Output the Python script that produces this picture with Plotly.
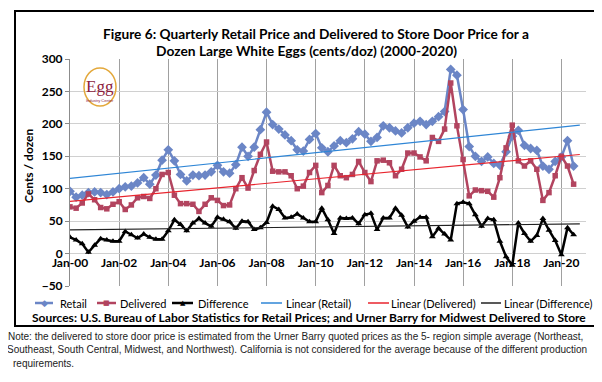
import numpy as np
import pandas as pd
import plotly.graph_objects as go

# ---------------- data (cents / dozen), quarterly 2000Q1 .. 2020Q3 ----------------
quarters = pd.date_range("2000-01-01", periods=83, freq="QS").strftime("%Y-%m-%d").tolist()

retail = [96, 87, 90, 94, 95, 94, 91, 95, 100, 103,
          104, 109, 117, 107, 121, 144, 160, 143, 122, 112,
          121, 120, 121, 126, 136, 126, 124, 137, 164, 150,
          164, 191, 218, 199, 192, 183, 174, 160, 158, 176,
          185, 163, 157, 166, 174, 171, 177, 188, 184, 173,
          179, 197, 194, 189, 186, 194, 201, 204, 199, 204,
          211, 219, 284, 275, 222, 165, 150, 142, 149, 139,
          136, 157, 181, 190, 167, 162, 159, 135, 130, 142,
          149, 174, 135]

delivered = [72, 70, 78, 92, 83, 71, 69, 76, 80, 68,
             75, 86, 88, 85, 100, 122, 125, 90, 77, 77,
             76, 65, 76, 86, 82, 74, 75, 100, 117, 101,
             128, 153, 172, 127, 126, 126, 120, 100, 104, 125,
             136, 94, 105, 136, 120, 117, 122, 142, 125, 111,
             143, 144, 140, 120, 130, 155, 155, 149, 143, 179,
             173, 192, 263, 197, 145, 89, 98, 97, 96, 87,
             117, 163, 198, 143, 135, 143, 130, 82, 94, 120,
             150, 135, 107]

difference = [25, 21, 15, 2, 13, 23, 21, 19, 19, 34,
              29, 24, 30, 25, 22, 22, 35, 52, 45, 35,
              47, 54, 47, 42, 56, 53, 49, 39, 50, 49,
              37, 40, 48, 73, 68, 55, 56, 61, 55, 49,
              49, 70, 52, 31, 55, 54, 55, 46, 60, 62,
              37, 55, 55, 70, 59, 41, 50, 56, 56, 26,
              39, 30, 21, 77, 79, 77, 60, 42, 54, 52,
              19, -5, -18, 47, 31, 19, 28, 54, 36, 20,
              -2, 40, 29]

y_ticks = [-50, 0, 50, 100, 150, 200, 250, 300]

series_names = ["Retail", "Delivered", "Difference",
                "Linear (Retail)", "Linear (Delivered)", "Linear (Difference)"]

# ---------------- linear trend lines (least squares, like Excel) ----------------
idx = np.arange(len(quarters))
trend_idx = np.array([0, len(quarters)])
trend_dates = [quarters[0], (pd.Timestamp(quarters[-1]) + pd.DateOffset(months=3)).strftime("%Y-%m-%d")]

def trend(vals):
    b, a = np.polyfit(idx, np.array(vals, dtype=float), 1)
    return (a + b * trend_idx).tolist()

FONT = "Lato"
C_RET = "#6B86C6"
C_DEL = "#B2445F"
C_DIF = "#000000"
C_TR = "#2F86D6"
C_TD = "#E8252E"
C_TF = "#222222"

fig = go.Figure()
fig.add_trace(go.Scatter(x=quarters, y=retail, name=series_names[0], mode="lines+markers",
                         line=dict(color=C_RET, width=2.5),
                         marker=dict(symbol="diamond", size=7.5, color=C_RET)))
fig.add_trace(go.Scatter(x=quarters, y=delivered, name=series_names[1], mode="lines+markers",
                         line=dict(color=C_DEL, width=2.5),
                         marker=dict(symbol="square", size=5.5, color=C_DEL)))
fig.add_trace(go.Scatter(x=quarters, y=difference, name=series_names[2], mode="lines+markers",
                         line=dict(color=C_DIF, width=2.5),
                         marker=dict(symbol="triangle-up", size=6, color=C_DIF)))
fig.add_trace(go.Scatter(x=trend_dates, y=trend(retail), name=series_names[3], mode="lines",
                         line=dict(color=C_TR, width=1.2)))
fig.add_trace(go.Scatter(x=trend_dates, y=trend(delivered), name=series_names[4], mode="lines",
                         line=dict(color=C_TD, width=1.2)))
fig.add_trace(go.Scatter(x=trend_dates, y=trend(difference), name=series_names[5], mode="lines",
                         line=dict(color=C_TF, width=1.2)))

# plot area in pixels: x 62..578, y 51..278
L, R, T, B = 62, 24, 51, 104
PW, PH = 602 - L - R, 382 - T - B

def px(xp):
    return (xp - L) / PW

def py(yp):
    return (T + PH - yp) / PH

fig.update_layout(
    width=602, height=382,
    margin=dict(l=L, r=R, t=T, b=B),
    paper_bgcolor="white", plot_bgcolor="white",
    font=dict(family=FONT, color="#000000"),
    showlegend=False,
    xaxis=dict(type="date", range=["2000-01-01", "2021-01-01"],
               tick0="2000-01-01", dtick="M24", tickformat="%b-%y",
               showgrid=True, gridcolor="#A0A0A0", gridwidth=1,
               showline=False, zeroline=False, ticks="",
               anchor="free", position=50 / 350,
               tickfont=dict(size=12, family=FONT, weight="bold")),
    yaxis=dict(range=[-50, 300], tickvals=y_ticks, showgrid=True, gridcolor="#D0D0D0",
               zeroline=False, showline=True, linecolor="#8C8C8C", linewidth=1,
               ticks="outside", ticklen=4, tickcolor="#8C8C8C",
               tickfont=dict(size=12, family=FONT, weight="bold")),
)

# outer chart box
fig.add_shape(type="rect", xref="paper", yref="paper",
              x0=px(7), x1=px(597), y0=py(318), y1=py(3),
              line=dict(color="#000000", width=2), fillcolor="rgba(0,0,0,0)", layer="below")

# ---------------- legend (drawn as a row of swatches + real text) ----------------
LEG_Y = 295
legend_items = [
    # (swatch x0, swatch x1, text centre, colour, line width, marker glyph, glyph size)
    (27, 45, 65, C_RET, 2.5, "\u25C6", 9),
    (89, 108, 135, C_DEL, 2.5, "\u25A0", 7),
    (164, 185, 215, C_DIF, 2.5, "\u25B2", 7),
    (253, 274, 310, C_TR, 1.5, None, 0),
    (360, 381, 425, C_TD, 1.5, None, 0),
    (473, 493, 540, C_TF, 1.5, None, 0),
]
for name, (sx0, sx1, tc, col, lw, glyph, gs) in zip(series_names, legend_items):
    fig.add_shape(type="line", xref="paper", yref="paper",
                  x0=px(sx0), x1=px(sx1), y0=py(LEG_Y), y1=py(LEG_Y),
                  line=dict(color=col, width=lw))
    if glyph:
        fig.add_annotation(text=glyph, xref="paper", yref="paper",
                           x=px((sx0 + sx1) / 2), y=py(LEG_Y), showarrow=False,
                           xanchor="center", yanchor="middle",
                           font=dict(size=gs, family="DejaVu Sans", color=col))
    fig.add_annotation(text=name, xref="paper", yref="paper", x=px(tc), y=py(LEG_Y),
                       showarrow=False, xanchor="center", yanchor="middle",
                       font=dict(size=11, family=FONT, color="#000000"))

# titles and texts
fig.add_annotation(text="<b>Figure 6: Quarterly Retail Price and Delivered to Store Door Price for a</b>",
                   xref="paper", yref="paper", x=px(308), y=py(25), showarrow=False,
                   xanchor="center", yanchor="middle", font=dict(size=13.7, family=FONT))
fig.add_annotation(text="<b>Dozen Large White Eggs (cents/doz) (2000-2020)</b>",
                   xref="paper", yref="paper", x=px(298), y=py(43), showarrow=False,
                   xanchor="center", yanchor="middle", font=dict(size=13.8, family=FONT))
fig.add_annotation(text="<b>Cents / dozen</b>", textangle=-90,
                   xref="paper", yref="paper", x=px(20), y=py(158), showarrow=False,
                   xanchor="center", yanchor="middle", font=dict(size=12, family=FONT))
fig.add_annotation(text="<b>Sources: U.S. Bureau of Labor Statistics for Retail Prices; and Urner Barry for Midwest Delivered to Store</b>",
                   xref="paper", yref="paper", x=px(301), y=py(309), showarrow=False,
                   xanchor="center", yanchor="middle", font=dict(size=12, family=FONT))

note_lines = [
    "Note: the delivered to store door price is estimated from the Urner Barry quoted prices as the 5- region simple average (Northeast,",
    "Southeast, South Central, Midwest, and Northwest). California is not considered for the average because of the different production",
    "requirements.",
]
note_centres = [287, 289, 35]
for k, (line, nc) in enumerate(zip(note_lines, note_centres)):
    fig.add_annotation(text=line, xref="paper", yref="paper", x=px(nc), y=py(328 + 13.5 * k),
                       showarrow=False, xanchor="center", yanchor="middle",
                       font=dict(size=10, family="Liberation Sans", color="#222222"))

# Egg Industry Center logo (approximation)
fig.add_shape(type="circle", xref="paper", yref="paper",
              x0=px(76), x1=px(108), y0=py(98), y1=py(60),
              line=dict(color="#E3A83B", width=1.5))
fig.add_annotation(text="Egg", xref="paper", yref="paper", x=px(92), y=py(79),
                   showarrow=False, xanchor="center", yanchor="middle",
                   font=dict(size=17, family="Liberation Serif", color="#8C1D3C"))
fig.add_annotation(text="Industry Center", xref="paper", yref="paper", x=px(92), y=py(92),
                   showarrow=False, xanchor="center", yanchor="middle",
                   font=dict(size=4, family="Liberation Sans", color="#8C1D3C"))

fig.write_html("out.html")
